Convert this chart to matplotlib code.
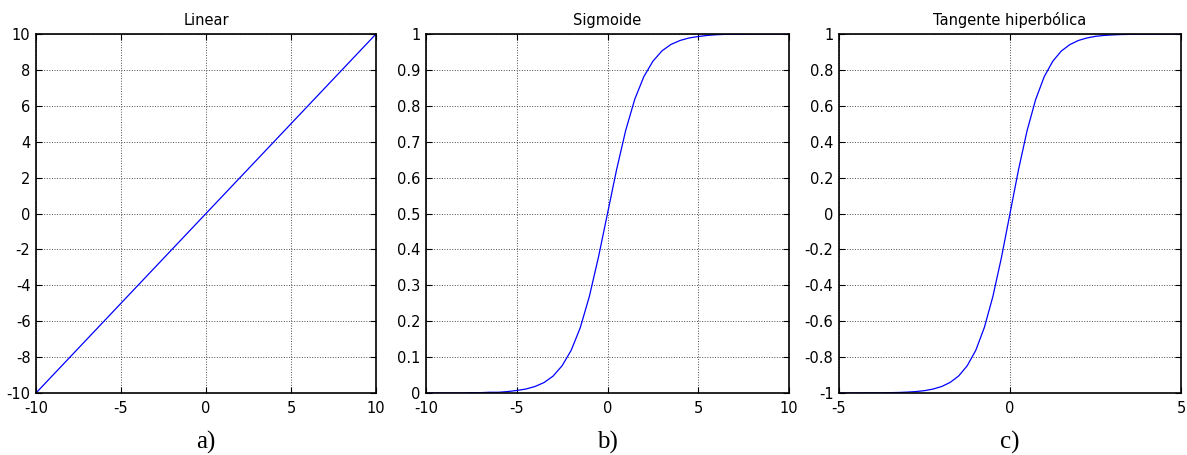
import matplotlib
matplotlib.use("Agg")
import matplotlib.pyplot as plt
from matplotlib.ticker import FormatStrFormatter

# ---------------------------------------------------
# Values
# ---------------------------------------------------
x_lin = [-10, -9, -8, -7, -6, -5, -4, -3, -2, -1, 0,
         1, 2, 3, 4, 5, 6, 7, 8, 9, 10]
y_lin = [-10, -9, -8, -7, -6, -5, -4, -3, -2, -1, 0,
         1, 2, 3, 4, 5, 6, 7, 8, 9, 10]

x_sig = [-10, -9.5, -9, -8.5, -8, -7.5, -7, -6.5, -6, -5.5, -5,
         -4.5, -4, -3.5, -3, -2.5, -2, -1.5, -1, -0.5, 0,
         0.5, 1, 1.5, 2, 2.5, 3, 3.5, 4, 4.5, 5,
         5.5, 6, 6.5, 7, 7.5, 8, 8.5, 9, 9.5, 10]
y_sig = [0.000, 0.000, 0.000, 0.000, 0.000, 0.001, 0.001, 0.002, 0.002, 0.004, 0.007,
         0.011, 0.018, 0.029, 0.047, 0.076, 0.119, 0.182, 0.269, 0.378, 0.500,
         0.622, 0.731, 0.818, 0.881, 0.924, 0.953, 0.971, 0.982, 0.989, 0.993,
         0.996, 0.998, 0.999, 0.999, 0.999, 1.000, 1.000, 1.000, 1.000, 1.000]

x_tanh = [-5, -4.75, -4.5, -4.25, -4, -3.75, -3.5, -3.25, -3, -2.75, -2.5,
          -2.25, -2, -1.75, -1.5, -1.25, -1, -0.75, -0.5, -0.25, 0,
          0.25, 0.5, 0.75, 1, 1.25, 1.5, 1.75, 2, 2.25, 2.5,
          2.75, 3, 3.25, 3.5, 3.75, 4, 4.25, 4.5, 4.75, 5]
y_tanh = [-1.000, -1.000, -1.000, -0.999, -0.999, -0.999, -0.998, -0.997, -0.995, -0.992, -0.987,
          -0.978, -0.964, -0.941, -0.905, -0.848, -0.762, -0.635, -0.462, -0.245, 0.000,
          0.245, 0.462, 0.635, 0.762, 0.848, 0.905, 0.941, 0.964, 0.978, 0.987,
          0.992, 0.995, 0.997, 0.998, 0.999, 0.999, 0.999, 1.000, 1.000, 1.000]

titles = ["Linear", "Sigmoide", "Tangente hiperbólica"]
letters = ["a)", "b)", "c)"]

plt.rcParams["font.family"] = ["DejaVu Sans"]
plt.rcParams["axes.unicode_minus"] = False

W, H = 1187, 455
fig = plt.figure(figsize=(W / 100, H / 100), dpi=100)

# axes boxes in pixels: left, right, top, bottom
boxes = [(36, 376, 34, 393), (426, 789, 34, 393), (839, 1181, 34, 393)]

panels = [
    (x_lin, y_lin, (-10, 10), (-10, 10), range(-10, 11, 5), range(-10, 11, 2)),
    (x_sig, y_sig, (-10, 10), (0, 1), range(-10, 11, 5), [i / 10 for i in range(11)]),
    (x_tanh, y_tanh, (-5, 5), (-1, 1), range(-5, 6, 5), [i / 10 for i in range(-10, 11, 2)]),
]

for (l, r, t, b), (xs, ys, xl, yl, xt, yt), title, letter in zip(boxes, panels, titles, letters):
    ax = fig.add_axes([l / W, 1 - b / H, (r - l) / W, (b - t) / H])
    ax.plot(xs, ys, color="#0000ff", linewidth=0.9)
    ax.set_xlim(*xl)
    ax.set_ylim(*yl)
    ax.set_xticks(list(xt))
    ax.set_yticks(list(yt))
    ax.yaxis.set_major_formatter(FormatStrFormatter("%g"))
    ax.xaxis.set_major_formatter(FormatStrFormatter("%g"))
    ax.tick_params(direction="in", top=True, right=True, length=4, width=0.8,
                   labelsize=10.5)
    ax.tick_params(axis="x", pad=5.5)
    ax.tick_params(axis="y", pad=4)
    ax.grid(True, linestyle=":", color="0.3", linewidth=0.7)
    for sp in ax.spines.values():
        sp.set_linewidth(1.2)
    ax.set_title(title, fontsize=10.5, pad=6.5)
    fig.text((l + r) / 2 / W, 1 - 442 / H, letter, ha="center", va="center",
             fontsize=18, family=["Liberation Serif", "DejaVu Serif"])

fig.savefig("out.png", dpi=100)
